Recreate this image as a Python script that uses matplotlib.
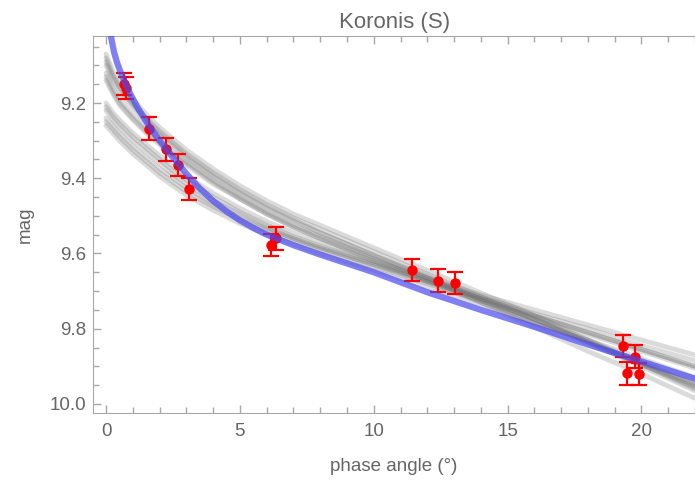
import matplotlib
matplotlib.use("Agg")
import matplotlib.pyplot as plt
from matplotlib.ticker import MultipleLocator

plt.rcParams['font.family'] = ['Liberation Sans', 'DejaVu Sans']

# observed points (phase angle, mag, error)
obs_x = [0.66, 0.76, 1.62, 2.25, 2.68, 3.08, 6.18, 6.36, 11.44, 12.40, 13.02,
         19.32, 19.76, 19.46, 19.90]
obs_y = [9.150, 9.160, 9.268, 9.323, 9.365, 9.429, 9.577, 9.560, 9.644, 9.672,
         9.679, 9.846, 9.874, 9.919, 9.920]
obs_err = [0.03] * len(obs_x)

# best fit curve (blue)
fit_x = [0.12, 0.2, 0.3, 0.4, 0.5, 0.7, 0.9, 1.2, 1.6, 2.0, 2.5, 3.0, 3.5, 4.0,
         4.5, 5.0, 5.5, 6.0, 7.0, 8.0, 10.0, 12.0, 14.0, 16.0, 18.0, 20.0, 22.0]
fit_y = [8.99, 9.03, 9.065, 9.09, 9.11, 9.145, 9.175, 9.215, 9.26, 9.30, 9.345,
         9.388, 9.427, 9.46, 9.488, 9.512, 9.532, 9.55, 9.578, 9.603, 9.65,
         9.703, 9.75, 9.795, 9.842, 9.887, 9.933]

# sampled fits (gray)
samp_x = [0, 0.25, 0.5, 1, 1.5, 2, 2.5, 3, 4, 5, 6, 7, 8, 10, 12, 14, 16, 18, 20, 22]
samp_a1 = [9.07, 9.115, 9.145, 9.19, 9.23, 9.265, 9.295, 9.325, 9.375, 9.42, 9.46,
           9.495, 9.525, 9.585, 9.645, 9.705, 9.765, 9.83, 9.895, 9.96]
samp_a2 = [9.10, 9.14, 9.17, 9.21, 9.25, 9.285, 9.315, 9.345, 9.395, 9.44, 9.48,
           9.515, 9.545, 9.605, 9.66, 9.72, 9.775, 9.835, 9.90, 9.965]
samp_a3 = [9.12, 9.16, 9.19, 9.23, 9.265, 9.30, 9.33, 9.355, 9.405, 9.45, 9.49,
           9.525, 9.555, 9.61, 9.665, 9.72, 9.775, 9.83, 9.89, 9.95]
samp_a4 = [9.14, 9.175, 9.205, 9.245, 9.28, 9.31, 9.34, 9.365, 9.415, 9.455, 9.495,
           9.53, 9.56, 9.62, 9.675, 9.73, 9.785, 9.84, 9.895, 9.95]
samp_a5 = [9.09, 9.13, 9.16, 9.205, 9.245, 9.28, 9.31, 9.34, 9.39, 9.435, 9.475,
           9.51, 9.545, 9.605, 9.665, 9.73, 9.795, 9.86, 9.92, 9.985]
samp_a6 = [9.08, 9.125, 9.155, 9.20, 9.24, 9.275, 9.305, 9.335, 9.385, 9.43, 9.47,
           9.505, 9.535, 9.595, 9.655, 9.715, 9.775, 9.835, 9.895, 9.955]
samp_a7 = [9.13, 9.17, 9.20, 9.24, 9.275, 9.305, 9.335, 9.36, 9.41, 9.455, 9.495,
           9.53, 9.56, 9.615, 9.67, 9.725, 9.78, 9.835, 9.89, 9.945]
samp_b1 = [9.20, 9.225, 9.245, 9.28, 9.31, 9.34, 9.37, 9.395, 9.44, 9.48, 9.515,
           9.545, 9.57, 9.62, 9.665, 9.71, 9.75, 9.79, 9.83, 9.87]
samp_b2 = [9.22, 9.245, 9.265, 9.30, 9.33, 9.36, 9.39, 9.415, 9.46, 9.495, 9.53,
           9.56, 9.585, 9.63, 9.675, 9.72, 9.765, 9.81, 9.855, 9.90]
samp_b3 = [9.25, 9.27, 9.29, 9.325, 9.355, 9.385, 9.41, 9.435, 9.475, 9.51, 9.54,
           9.565, 9.59, 9.635, 9.68, 9.725, 9.77, 9.815, 9.86, 9.905]
samp_b4 = [9.26, 9.28, 9.30, 9.335, 9.365, 9.395, 9.42, 9.445, 9.485, 9.52, 9.55,
           9.575, 9.60, 9.645, 9.69, 9.735, 9.785, 9.83, 9.88, 9.93]
samp_b5 = [9.21, 9.235, 9.255, 9.29, 9.32, 9.35, 9.38, 9.405, 9.45, 9.49, 9.525,
           9.555, 9.58, 9.625, 9.67, 9.715, 9.76, 9.80, 9.845, 9.885]
samp_b6 = [9.24, 9.26, 9.28, 9.315, 9.345, 9.375, 9.40, 9.425, 9.47, 9.505, 9.535,
           9.56, 9.585, 9.63, 9.675, 9.72, 9.765, 9.81, 9.855, 9.90]
samples = [samp_a1, samp_a2, samp_a3, samp_a4, samp_a5, samp_a6, samp_a7,
           samp_b1, samp_b2, samp_b3, samp_b4, samp_b5, samp_b6]

txt = '#666666'
frame = '#a8a8a8'

fig = plt.figure(figsize=(6.95, 4.84), dpi=100)
ax = fig.add_axes([0.1343, 0.146, 0.8657, 0.7795])

for s in samples:
    ax.plot(samp_x, s, color='#6a6a6a', lw=3.5, alpha=0.24, solid_capstyle='round', zorder=1)

ax.errorbar(obs_x, obs_y, yerr=obs_err, fmt='o', color='red', ms=6.5,
            elinewidth=1.6, capsize=6, capthick=1.6, zorder=2)

ax.plot(fit_x, fit_y, color='#4a4af0', lw=4.5, alpha=0.7, zorder=3)

ax.set_xlim(-0.475, 22.0)
ax.set_ylim(10.025, 9.022)

ax.xaxis.set_major_locator(MultipleLocator(5))
ax.xaxis.set_minor_locator(MultipleLocator(1))
ax.yaxis.set_major_locator(MultipleLocator(0.2))
ax.yaxis.set_minor_locator(MultipleLocator(0.05))
ax.yaxis.set_major_formatter(plt.FuncFormatter(lambda v, p: f"{v:.1f}"))

ax.tick_params(which='both', direction='in', color=frame, labelcolor=txt,
               labelsize=13.5, top=True, right=False)
ax.tick_params(which='major', length=6, width=1)
ax.tick_params(which='minor', length=4, width=1)
ax.tick_params(axis='x', pad=7)
ax.tick_params(axis='y', pad=5)

for side in ['left', 'bottom', 'top']:
    ax.spines[side].set_color(frame)
ax.spines['right'].set_visible(False)

ax.set_title('Koronis (S)', color=txt, fontsize=16, y=1.036, va='center', pad=0)
ax.set_xlabel('phase angle (°)', color=txt, fontsize=13.5)
ax.set_ylabel('mag', color=txt, fontsize=13.5)
ax.xaxis.label.set_va('center')
ax.yaxis.label.set_va('center')
ax.xaxis.set_label_coords(0.5, -0.142)
ax.yaxis.set_label_coords(-0.1135, 0.5)

fig.savefig('out.png', dpi=100)
